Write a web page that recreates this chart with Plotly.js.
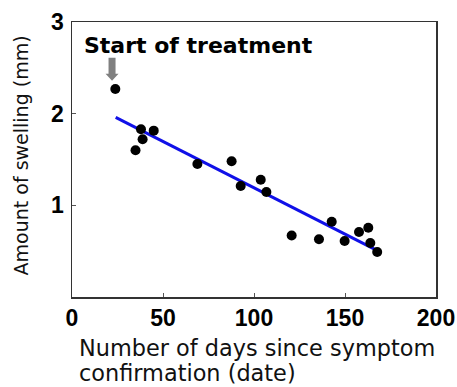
<!DOCTYPE html>
<html><head><meta charset="utf-8">
<script src="https://cdn.plot.ly/plotly-3.0.1.min.js"></script>
<style>html,body{margin:0;padding:0;background:#fff}#chart{width:457px;height:387px}</style>
</head><body><div id="chart"></div>
<script>
const days = [23.8, 34.9, 37.9, 38.8, 44.9, 68.9, 87.7, 92.7, 103.7, 106.8, 120.7, 135.7, 142.7, 149.8, 157.7, 162.8, 163.9, 167.7];
const swelling = [2.27, 1.60, 1.83, 1.72, 1.815, 1.45, 1.48, 1.21, 1.28, 1.145, 0.67, 0.63, 0.82, 0.61, 0.71, 0.755, 0.59, 0.49];
const fitX = [24, 167];
const fitY = [1.96, 0.515];
const xTicks = [0, 50, 100, 150, 200];
const yTicks = [1, 2, 3];
const annotText = "Start of treatment";
const xTitleLines = ["Number of days since symptom", "confirmation (date)"];
const yTitle = "Amount of swelling (mm)";

const traces = [
  {x: fitX, y: fitY, mode: 'lines', line: {color: '#1010e8', width: 3}, hoverinfo: 'skip'},
  {x: days, y: swelling, mode: 'markers', marker: {color: '#000', size: 10}}
];
const tickFont = {family: 'Liberation Sans, Arial, sans-serif', size: 23, color: '#000', weight: 'bold'};
const titleFont = {family: 'DejaVu Sans, sans-serif', size: 22.4, color: '#111'};
const layout = {
  width: 457, height: 387,
  margin: {l: 72, r: 21, t: 22, b: 90},
  showlegend: false,
  plot_bgcolor: '#fff', paper_bgcolor: '#fff',
  xaxis: {range: [0, 200], tickvals: xTicks, ticktext: xTicks.map(String), showgrid: false, zeroline: false,
          showline: true, mirror: true, linecolor: '#333', linewidth: 1.5, ticks: 'inside', ticklen: 4, tickcolor: '#555',
          tickfont: tickFont},
  yaxis: {range: [0, 3], tickvals: yTicks, ticktext: yTicks.map(String), showgrid: false, zeroline: false,
          showline: true, mirror: true, linecolor: '#333', linewidth: 1.5, ticks: 'inside', ticklen: 4, tickcolor: '#555',
          tickfont: tickFont, ticklabelstandoff: 2},
  shapes: [
    {type: 'path', xref: 'x', yref: 'y', xsizemode: 'pixel', ysizemode: 'pixel', xanchor: 22.0, yanchor: 2.36,
     path: 'M 0 0 L -6.5 7 L -3.5 7 L -3.5 23 L 3.5 23 L 3.5 7 L 6.5 7 Z',
     fillcolor: '#808080', line: {width: 0}}
  ],
  annotations: [
    {x: 5.5, y: 2.74, xref: 'x', yref: 'y', text: annotText, showarrow: false, xanchor: 'left', yanchor: 'middle',
     font: {family: 'DejaVu Sans, sans-serif', size: 22, color: '#000', weight: 'bold'}},
    {x: -0.14, y: 0.515, xref: 'paper', yref: 'paper', text: yTitle, showarrow: false, textangle: -90,
     xanchor: 'center', yanchor: 'middle', font: {family: 'DejaVu Sans, sans-serif', size: 19, color: '#111'}},
    {x: 0.014, y: -0.13, xref: 'paper', yref: 'paper', text: xTitleLines[0], showarrow: false, xanchor: 'left', yanchor: 'top', align: 'left',
     font: titleFont},
    {x: 0.014, y: -0.222, xref: 'paper', yref: 'paper', text: xTitleLines[1], showarrow: false, xanchor: 'left', yanchor: 'top', align: 'left',
     font: titleFont}
  ]
};
Plotly.newPlot('chart', traces, layout, {displayModeBar: false, staticPlot: true});
</script></body></html>
